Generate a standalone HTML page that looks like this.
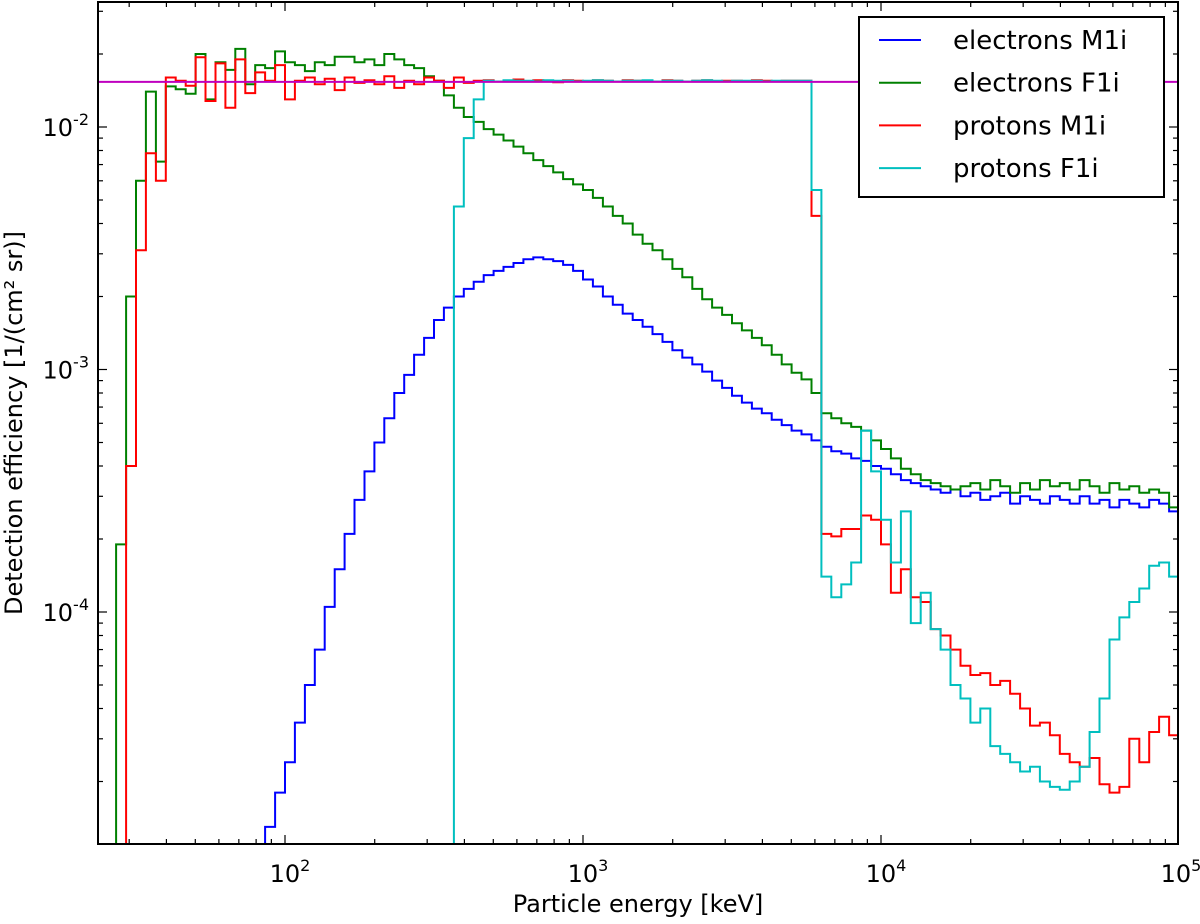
<!DOCTYPE html>
<html><head><meta charset="utf-8"><style>
html,body{margin:0;padding:0;background:#fff;}
svg text{font-family:"DejaVu Sans","Liberation Sans",sans-serif;fill:#000;}
</style></head><body>
<svg id="chart" width="1200" height="919" viewBox="0 0 1200 919" xmlns="http://www.w3.org/2000/svg">
<defs><clipPath id="plotclip"><rect x="98" y="2" width="1080" height="842"/></clipPath></defs>
<rect x="0" y="0" width="1200" height="919" fill="#fff"/>
<g id="series" clip-path="url(#plotclip)"></g>
<g id="axes"></g>
<text x="638" y="912" font-size="24" text-anchor="middle">Particle energy [keV]</text>
<text transform="translate(22,423) rotate(-90)" font-size="24" text-anchor="middle">Detection efficiency [1/(cm² sr)]</text>
<g id="legend">
<rect x="859" y="17" width="305" height="180" fill="#fff" stroke="#000" stroke-width="2"/>
</g>
</svg>
<script>
// Bins: 30 per decade, from log10(E)=1.4 to 5.0 (108 bins)
const binsPerDecade = 30;
const logStart = 1.4;
const seriesNames = ["electrons M1i","electrons F1i","protons M1i","protons F1i"];
const seriesColors = ["#0000ff","#008000","#ff0000","#00bfbf"];
const referenceLevel = 1.535e-2;
const xTickLabels = ["2","3","4","5"];
const yTickLabels = ["-2","-3","-4"];

const electronsM1i = [0,0,0,0,0,0,0,0,0,0,0,0,0,0,0,0,
1.3e-5,1.8e-5,2.4e-5,3.5e-5,5e-5,7e-5,1.05e-4,1.5e-4,2.1e-4,2.9e-4,3.8e-4,5e-4,6.3e-4,8e-4,9.5e-4,1.15e-3,1.35e-3,1.6e-3,1.8e-3,2.0e-3,2.15e-3,2.3e-3,2.45e-3,2.55e-3,2.65e-3,2.75e-3,2.85e-3,2.9e-3,2.85e-3,2.8e-3,2.7e-3,2.55e-3,2.35e-3,2.2e-3,2.0e-3,1.85e-3,1.7e-3,1.6e-3,1.5e-3,1.4e-3,1.3e-3,1.2e-3,1.12e-3,1.05e-3,9.8e-4,9.0e-4,8.4e-4,7.8e-4,7.3e-4,6.9e-4,6.6e-4,6.2e-4,5.9e-4,5.6e-4,5.4e-4,5.1e-4,4.8e-4,4.6e-4,4.5e-4,4.3e-4,4.2e-4,4.0e-4,3.9e-4,3.7e-4,3.5e-4,3.4e-4,3.3e-4,3.2e-4,3.1e-4,3.2e-4,3.0e-4,3.1e-4,2.9e-4,3.0e-4,3.1e-4,2.8e-4,3.0e-4,2.9e-4,2.8e-4,3.0e-4,2.9e-4,2.8e-4,3.0e-4,2.8e-4,2.9e-4,2.7e-4,2.9e-4,2.8e-4,2.7e-4,2.9e-4,2.8e-4,2.6e-4];

const electronsF1i = [0,1.9e-4,2e-3,6e-3,1.4e-2,7.2e-3,1.47e-2,1.43e-2,1.37e-2,2.0e-2,1.3e-2,1.85e-2,1.72e-2,2.1e-2,1.5e-2,1.8e-2,1.75e-2,2.05e-2,1.85e-2,1.8e-2,1.7e-2,1.85e-2,1.8e-2,1.95e-2,1.95e-2,1.85e-2,1.9e-2,1.8e-2,2.0e-2,1.9e-2,1.8e-2,1.75e-2,1.62e-2,1.55e-2,1.35e-2,1.2e-2,1.1e-2,1.05e-2,9.8e-3,9.3e-3,8.8e-3,8.3e-3,7.8e-3,7.3e-3,6.9e-3,6.5e-3,6.1e-3,5.8e-3,5.5e-3,5.1e-3,4.7e-3,4.3e-3,4.0e-3,3.6e-3,3.3e-3,3.1e-3,2.85e-3,2.6e-3,2.4e-3,2.15e-3,1.95e-3,1.8e-3,1.68e-3,1.55e-3,1.45e-3,1.35e-3,1.26e-3,1.15e-3,1.05e-3,9.7e-4,9.1e-4,8.0e-4,6.6e-4,6.3e-4,6.0e-4,5.8e-4,5.6e-4,5.1e-4,4.7e-4,4.3e-4,3.9e-4,3.7e-4,3.5e-4,3.4e-4,3.3e-4,3.2e-4,3.3e-4,3.4e-4,3.2e-4,3.5e-4,3.3e-4,3.1e-4,3.4e-4,3.2e-4,3.5e-4,3.3e-4,3.4e-4,3.2e-4,3.5e-4,3.3e-4,3.1e-4,3.4e-4,3.2e-4,3.3e-4,3.1e-4,3.2e-4,3.1e-4,2.7e-4];

const protonsM1i = [0,0,4e-4,3.1e-3,7.8e-3,6e-3,1.6e-2,1.55e-2,1.48e-2,1.94e-2,1.28e-2,1.83e-2,1.2e-2,1.9e-2,1.38e-2,1.68e-2,1.55e-2,1.8e-2,1.3e-2,1.55e-2,1.6e-2,1.5e-2,1.58e-2,1.42e-2,1.6e-2,1.52e-2,1.56e-2,1.5e-2,1.62e-2,1.45e-2,1.55e-2,1.5e-2,1.6e-2,1.55e-2,1.45e-2,1.6e-2,1.52e-2,1.55e-2,1.56e-2,1.54e-2,1.55e-2,1.57e-2,1.54e-2,1.56e-2,1.55e-2,1.53e-2,1.56e-2,1.55e-2,1.54e-2,1.56e-2,1.55e-2,1.54e-2,1.56e-2,1.55e-2,1.55e-2,1.54e-2,1.56e-2,1.55e-2,1.54e-2,1.55e-2,1.56e-2,1.54e-2,1.55e-2,1.55e-2,1.54e-2,1.56e-2,1.55e-2,1.54e-2,1.55e-2,1.55e-2,1.55e-2,4.3e-3,2.1e-4,2.05e-4,2.2e-4,2.2e-4,2.5e-4,2.4e-4,1.9e-4,1.2e-4,1.5e-4,1.15e-4,1.1e-4,8.5e-5,8e-5,7e-5,6e-5,5.5e-5,5.6e-5,5e-5,5.2e-5,4.6e-5,4e-5,3.4e-5,3.5e-5,3.1e-5,2.6e-5,2.4e-5,2.3e-5,2.5e-5,1.95e-5,1.8e-5,1.9e-5,3e-5,2.4e-5,3.2e-5,3.7e-5,3.1e-5];

const protonsF1i = [0,0,0,0,0,0,0,0,0,0,0,0,0,0,0,0,0,0,0,0,0,0,0,0,0,0,0,0,0,0,0,0,0,0,0,
4.7e-3,9e-3,1.3e-2,1.55e-2,1.54e-2,1.56e-2,1.55e-2,1.55e-2,1.54e-2,1.56e-2,1.55e-2,1.55e-2,1.54e-2,1.55e-2,1.56e-2,1.55e-2,1.54e-2,1.55e-2,1.55e-2,1.56e-2,1.54e-2,1.55e-2,1.55e-2,1.54e-2,1.55e-2,1.56e-2,1.55e-2,1.54e-2,1.55e-2,1.55e-2,1.55e-2,1.54e-2,1.55e-2,1.55e-2,1.55e-2,1.55e-2,5.5e-3,1.4e-4,1.15e-4,1.3e-4,1.6e-4,5.6e-4,3.8e-4,2.4e-4,1.6e-4,2.6e-4,9e-5,1.2e-4,8.5e-5,7e-5,5e-5,4.4e-5,3.5e-5,4e-5,2.8e-5,2.6e-5,2.4e-5,2.2e-5,2.3e-5,2e-5,1.9e-5,1.85e-5,2e-5,2.3e-5,3.2e-5,4.4e-5,7.7e-5,9.5e-5,1.1e-4,1.25e-4,1.55e-4,1.6e-4,1.4e-4];

const allSeries = [electronsM1i, electronsF1i, protonsM1i, protonsF1i];

// axis functions
const X0 = 285, XDEC = 298;      // x pixel of 10^2, px per decade
const Y0 = 127, YDEC = 242.5;    // y pixel of 10^-2, px per decade
function xOfLog(l){ return X0 + (l - 2) * XDEC; }
function yOfVal(v){ if (!(v > 0)) return 900; return Y0 + (-2 - Math.log10(v)) * YDEC; }
function binEdge(i){ return xOfLog(logStart + i / binsPerDecade); }

const NS = "http://www.w3.org/2000/svg";
const gS = document.getElementById("series");
const seriesKeys = ["electrons-m1i","electrons-f1i","protons-m1i","protons-f1i"];
[0,1,2,3].forEach(function(k){
  const data = allSeries[k];
  let d = "";
  for (let i = 0; i < data.length; i++) {
    const y = yOfVal(data[i]);
    const xl = binEdge(i), xr = binEdge(i + 1);
    d += (i === 0 ? "M" : "L") + xl.toFixed(1) + "," + y.toFixed(1);
    d += "L" + xr.toFixed(1) + "," + y.toFixed(1);
  }
  const p = document.createElementNS(NS, "path");
  p.setAttribute("d", d);
  p.setAttribute("fill", "none");
  p.setAttribute("stroke", seriesColors[k]);
  p.setAttribute("stroke-width", "2");
  
  
  gS.appendChild(p);
});
const ref = document.createElementNS(NS, "line");
ref.setAttribute("x1", 98); ref.setAttribute("x2", 1178);
ref.setAttribute("y1", yOfVal(referenceLevel)); ref.setAttribute("y2", yOfVal(referenceLevel));
ref.setAttribute("stroke", "#bf00bf"); ref.setAttribute("stroke-width", "2");


gS.appendChild(ref);

// axes, ticks
const gA = document.getElementById("axes");
function line(x1,y1,x2,y2,w){
  const l = document.createElementNS(NS, "line");
  l.setAttribute("x1",x1); l.setAttribute("y1",y1); l.setAttribute("x2",x2); l.setAttribute("y2",y2);
  l.setAttribute("stroke","#000"); l.setAttribute("stroke-width",w);
  
  
  gA.appendChild(l);
}
const L = 98, R = 1178, T = 2, B = 844;
for (let dec = 1; dec <= 5; dec++) {
  for (let m = 1; m <= 9; m++) {
    const x = xOfLog(dec + Math.log10(m));
    if (x < L - 0.5 || x > R + 0.5) continue;
    const len = (m === 1) ? 9 : 5;
    line(x, B, x, B - len, 1.2);
    line(x, T, x, T + len, 1.2);
  }
}
for (let dec = -5; dec <= -1; dec++) {
  for (let m = 1; m <= 9; m++) {
    const y = yOfVal(m * Math.pow(10, dec));
    if (y < T - 0.5 || y > B + 0.5) continue;
    const len = (m === 1) ? 9 : 5;
    line(L, y, L + len, y, 1.2);
    line(R, y, R - len, y, 1.2);
  }
}
const frame = document.createElementNS(NS, "rect");
frame.setAttribute("x", L); frame.setAttribute("y", T);
frame.setAttribute("width", R - L); frame.setAttribute("height", B - T);
frame.setAttribute("fill", "none"); frame.setAttribute("stroke", "#000"); frame.setAttribute("stroke-width", "2");


gA.appendChild(frame);

function powLabel(x, y, exp, anchor, nm){
  const t = document.createElementNS(NS, "text");
  t.setAttribute("x", x); t.setAttribute("y", y);
  t.setAttribute("font-size", "24");
  t.setAttribute("text-anchor", anchor);
  
  
  const a = document.createElementNS(NS, "tspan"); a.textContent = "10";
  const b = document.createElementNS(NS, "tspan"); b.textContent = exp;
  b.setAttribute("font-size", "16"); b.setAttribute("dy", "-11");
  t.appendChild(a); t.appendChild(b);
  gA.appendChild(t);
}
xTickLabels.forEach(function(e){
  const x = xOfLog(+e) + (e === "5" ? 2 : 5);
  powLabel(x, 882, e, "middle", "x-tick-label-" + e);
});
yTickLabels.forEach(function(e){
  powLabel(89, yOfVal(Math.pow(10, +e)) + 9, e, "end", "y-tick-label" + e);
});

// legend
const gL = document.getElementById("legend");
seriesNames.forEach(function(n, k){
  const cy = 40 + k * 42.7;
  const l = document.createElementNS(NS, "line");
  l.setAttribute("x1", 879); l.setAttribute("x2", 921);
  l.setAttribute("y1", cy); l.setAttribute("y2", cy);
  l.setAttribute("stroke", seriesColors[k]); l.setAttribute("stroke-width", "2");
  
  
  gL.appendChild(l);
  const t = document.createElementNS(NS, "text");
  t.setAttribute("x", 953); t.setAttribute("y", cy + 9);
  t.setAttribute("font-size", "26");
  t.textContent = n;
  
  
  gL.appendChild(t);
});
</script>
</body></html>
